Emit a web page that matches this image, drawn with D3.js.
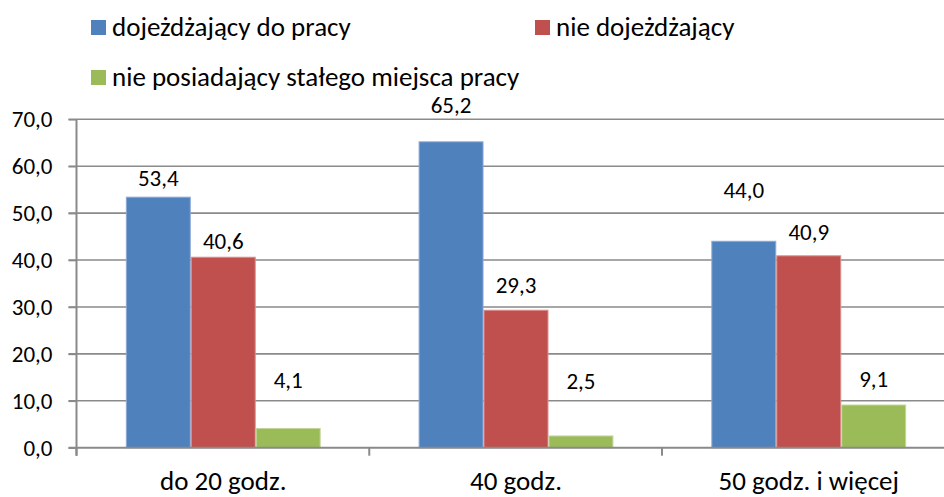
<!DOCTYPE html>
<html>
<head>
<meta charset="utf-8">
<script src="https://cdn.jsdelivr.net/npm/d3@7/dist/d3.min.js"></script>
<style>
  html, body { margin: 0; padding: 0; background: #fff; }
  svg { display: block; }
  text { font-family: Carlito, Calibri, Lato, sans-serif; fill: #000; }
</style>
</head>
<body>
<svg id="chart" width="944" height="497"></svg>
<script>
// Working-time groups and the three respondent groups
const categories = ["do 20 godz.", "40 godz.", "50 godz. i więcej"];
const seriesNames = ["dojeżdżający do pracy", "nie dojeżdżający", "nie posiadający stałego miejsca pracy"];
const commuting = [53.4, 65.2, 44.0];
const notCommuting = [40.6, 29.3, 40.9];
const noFixedWorkplace = [4.1, 2.5, 9.1];
const yTicks = [0, 10, 20, 30, 40, 50, 60, 70];

const seriesValues = [commuting, notCommuting, noFixedWorkplace];
const colors = ["#4F81BD", "#C0504D", "#9BBB59"];
const edgeColors = ["#8DA9D6", "#D98F8D", "#C2D69B"];

// Pixel lift of each value label above its bar top, per group then series
const labelLift = [[11, 8, 40], [29, 17, 47], [43, 16, 18]];

const fmt = v => v.toFixed(1).replace(".", ",");

const svg = d3.select("#chart");
const plotLeft = 76.5, baseY = 447.7, topY = 119.3;
const groupStep = 293;

const y = d3.scaleLinear().domain([0, 70]).range([baseY, topY]);
const x0 = d3.scaleBand()
  .domain(categories)
  .range([plotLeft, plotLeft + groupStep * categories.length])
  .paddingInner(0.3345)
  .paddingOuter(0.1685);
const x1 = d3.scaleBand()
  .domain(d3.range(seriesNames.length))
  .range([0, x0.bandwidth()]);

const gridColor = "#8a8a8a";

// horizontal gridlines
svg.append("g")
  .selectAll("line")
  .data(yTicks.filter(t => t > 0))
  .join("line")
  .attr("x1", plotLeft - 8)
  .attr("x2", 944)
  .attr("y1", d => y(d))
  .attr("y2", d => y(d))
  .attr("stroke", gridColor)
  .attr("stroke-width", 1.6);

// y axis
const yAxis = svg.append("g")
  .attr("transform", `translate(${plotLeft},0)`)
  .call(d3.axisLeft(y).tickValues(yTicks).tickSize(8).tickPadding(16).tickFormat(fmt));
yAxis.select(".domain").attr("stroke", gridColor).attr("stroke-width", 2)
  .attr("d", `M0,${topY}V${baseY + 8}`);
yAxis.selectAll(".tick line").attr("stroke", gridColor).attr("stroke-width", 1.6);
yAxis.selectAll(".tick text")
  .style("font-size", "23px")
  .attr("fill", "#000");

// bars
const groups = svg.append("g")
  .selectAll("g")
  .data(categories)
  .join("g")
  .attr("transform", d => `translate(${x0(d)},0)`);

groups.selectAll("rect")
  .data((c, ci) => seriesValues.map((s, si) => ({ si, ci, v: s[ci] })))
  .join("rect")
  .attr("x", d => x1(d.si) + 0.5)
  .attr("width", x1.bandwidth() - 1)
  .attr("y", d => y(d.v))
  .attr("height", d => y(0) - y(d.v))
  .attr("fill", d => colors[d.si])
  .attr("stroke", d => edgeColors[d.si])
  .attr("stroke-width", 1);

// x axis baseline and category boundary ticks
const xAxis = svg.append("g").attr("transform", `translate(0,${baseY})`);
xAxis.append("line")
  .attr("x1", plotLeft - 8).attr("x2", 944)
  .attr("y1", 0).attr("y2", 0)
  .attr("stroke", gridColor).attr("stroke-width", 2);
xAxis.selectAll("line.tick")
  .data(d3.range(categories.length))
  .join("line")
  .attr("class", "tick")
  .attr("x1", i => plotLeft + i * x0.step())
  .attr("x2", i => plotLeft + i * x0.step())
  .attr("y1", 0).attr("y2", 8)
  .attr("stroke", gridColor).attr("stroke-width", 2);

xAxis.selectAll("text")
  .data(categories)
  .join("text")
  .attr("x", d => x0(d) + x0.bandwidth() / 2)
  .attr("y", 490.5 - baseY)
  .attr("text-anchor", "middle")
  .style("font-size", "27px")
  .text(d => d);

// value labels
groups.selectAll("text")
  .data((c, ci) => seriesValues.map((s, si) => ({ si, ci, v: s[ci] })))
  .join("text")
  .attr("x", d => x1(d.si) + x1.bandwidth() / 2)
  .attr("y", d => y(d.v) - labelLift[d.ci][d.si])
  .attr("text-anchor", "middle")
  .style("font-size", "23px")
  .text(d => fmt(d.v));

// legend
const legendPos = [[91, 20], [535, 20], [91, 70]];
const legend = svg.append("g")
  .selectAll("g")
  .data(seriesNames)
  .join("g")
  .attr("transform", (d, i) => `translate(${legendPos[i][0]},${legendPos[i][1]})`);
legend.append("rect")
  .attr("width", 15).attr("height", 15)
  .attr("fill", (d, i) => colors[i]);
legend.append("text")
  .attr("x", 21)
  .attr("y", 15.5)
  .style("font-size", "27px")
  .text(d => d);
</script>
</body>
</html>
